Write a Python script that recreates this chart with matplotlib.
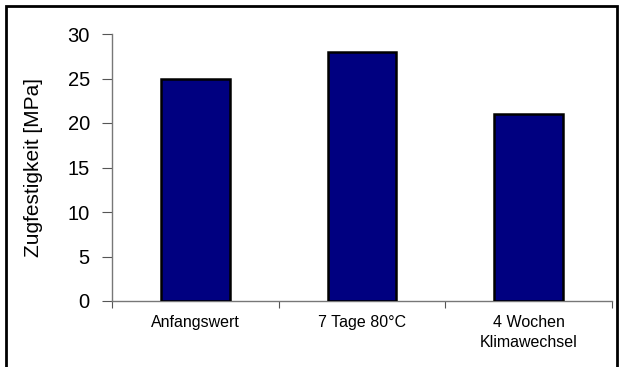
import matplotlib
matplotlib.use("Agg")
import matplotlib.pyplot as plt
from matplotlib.patches import Rectangle

categories = ["Anfangswert", "7 Tage 80\u00b0C", "4 Wochen\nKlimawechsel"]
values = [25, 28, 21]
yticks = [0, 5, 10, 15, 20, 25, 30]

plt.rcParams['font.family'] = ['Liberation Sans', 'DejaVu Sans']

W, H = 622, 367
fig = plt.figure(figsize=(W / 100, H / 100), dpi=100)
ax = fig.add_axes([112 / W, 1 - 301 / H, (612 - 112) / W, (301 - 34) / H])

x = list(range(len(categories)))
ax.bar(x, values, width=0.41, color="#000080", edgecolor="black", linewidth=1.8, zorder=3)

ax.set_xlim(-0.5, len(categories) - 0.5)
ax.set_ylim(0, 30)
ax.set_yticks(yticks)
ax.set_yticklabels([str(v) for v in yticks], fontsize=14.5)
ax.set_xticks([i + 0.5 for i in range(-1, len(categories))])
ax.set_xticklabels([])
ax.set_xticks(x, minor=True)
ax.set_xticklabels(categories, minor=True, fontsize=11.5, linespacing=1.4)
ax.tick_params(axis='x', which='minor', length=0, pad=10)
ax.tick_params(axis='x', which='major', length=5, direction='out', color='#555555')
ax.tick_params(axis='y', length=7, direction='out', color='#555555', pad=9)

for s in ['top', 'right']:
    ax.spines[s].set_visible(False)
for s in ['left', 'bottom']:
    ax.spines[s].set_color('#777777')
    ax.spines[s].set_linewidth(1.0)

ax.set_ylabel("Zugfestigkeit [MPa]", fontsize=15)
ax.yaxis.set_label_coords(-(112 - 43) / (612 - 112), 0.5)

fig.patches.append(Rectangle((6 / W, -0.05), (617 - 6) / W, 1 - 6 / H + 0.05,
                             transform=fig.transFigure, fill=False,
                             edgecolor='black', linewidth=2))

fig.savefig("out.png", dpi=100)
